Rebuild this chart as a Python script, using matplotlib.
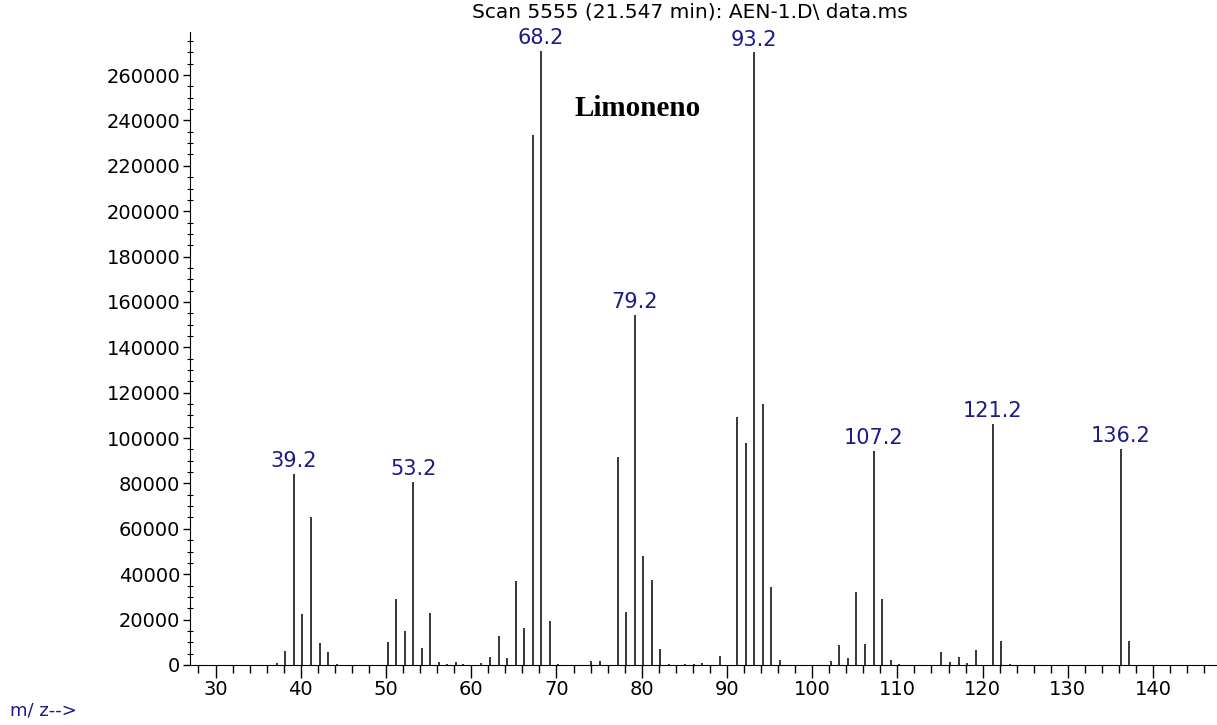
import matplotlib.pyplot as plt
from matplotlib.ticker import MultipleLocator

# m/z and abundance
mz = [37.2, 38.2, 39.2, 40.2, 41.2, 42.2, 43.2, 44.2,
      50.2, 51.2, 52.2, 53.2, 54.2, 55.2, 56.2, 57.2, 58.2, 59.0,
      61.2, 62.2, 63.2, 64.2, 65.2, 66.2, 67.2, 68.2, 69.2, 70.2,
      74.1, 75.1, 77.2, 78.2, 79.2, 80.2, 81.2, 82.2, 83.2, 85.1, 86.1, 87.1, 89.2,
      91.2, 92.2, 93.2, 94.2, 95.2, 96.2,
      102.2, 103.2, 104.2, 105.2, 106.2, 107.2, 108.2, 109.2, 110.2,
      115.1, 116.2, 117.2, 118.2, 119.2, 121.2, 122.2, 123.2,
      136.2, 137.2]
abundance = [1000, 6300, 84300, 22300, 65200, 9700, 5600, 500,
             10300, 29100, 14800, 80800, 7400, 22900, 1300, 500, 1200, 600,
             900, 3700, 12800, 3100, 37200, 16300, 233600, 270500, 19400, 600,
             1800, 1900, 91600, 23500, 154400, 48000, 37500, 6900, 500, 400, 600, 900, 4100,
             109300, 97800, 270000, 114900, 34400, 2200,
             1600, 8700, 3100, 32000, 9100, 94400, 29000, 2200, 500,
             5700, 1300, 3700, 700, 6500, 106200, 10400, 600,
             95200, 10400]

# peaks that get their m/z printed above them
labeled = [39.2, 53.2, 68.2, 79.2, 93.2, 107.2, 121.2, 136.2]

navy = '#1a1a8a'
plt.rcParams['font.family'] = ['DejaVu Sans']

fig = plt.figure(figsize=(12.17, 7.25), dpi=100)
ax = fig.add_axes([0.1561, 0.0828, 0.8439, 0.8731])

ax.vlines(mz, 0, abundance, color='black', linewidth=1.1)

for m, a in zip(mz, abundance):
    if m in labeled:
        ax.annotate(f'{m:.1f}', (m, a), xytext=(0, 2), textcoords='offset points',
                    ha='center', va='bottom', color=navy, fontsize=15)

ax.set_xlim(27, 147.5)
ax.set_ylim(0, 279000)

ax.xaxis.set_major_locator(MultipleLocator(10))
ax.xaxis.set_minor_locator(MultipleLocator(2))
ax.yaxis.set_major_locator(MultipleLocator(20000))
ax.yaxis.set_minor_locator(MultipleLocator(5000))

ax.tick_params(axis='x', which='major', direction='out', length=9, width=1, labelsize=14, pad=2)
ax.tick_params(axis='x', which='minor', direction='out', length=6, width=1)
ax.tick_params(axis='y', which='major', direction='out', length=5, width=1, labelsize=14, pad=2)
ax.tick_params(axis='y', which='minor', direction='inout', length=4, width=0.8)

ax.spines['top'].set_visible(False)
ax.spines['right'].set_visible(False)

fig.text(0.567, 0.983, 'Scan 5555 (21.547 min): AEN-1.D\\ data.ms',
         ha='center', va='center', fontsize=14.5)
fig.text(0.524, 0.851, 'Limoneno', ha='center', va='center', fontsize=21,
         fontweight='bold', family='Liberation Serif')
fig.text(0.008, 0.02, 'm/ z-->', ha='left', va='center', color=navy, fontsize=13)

fig.savefig('out.png', dpi=100)
